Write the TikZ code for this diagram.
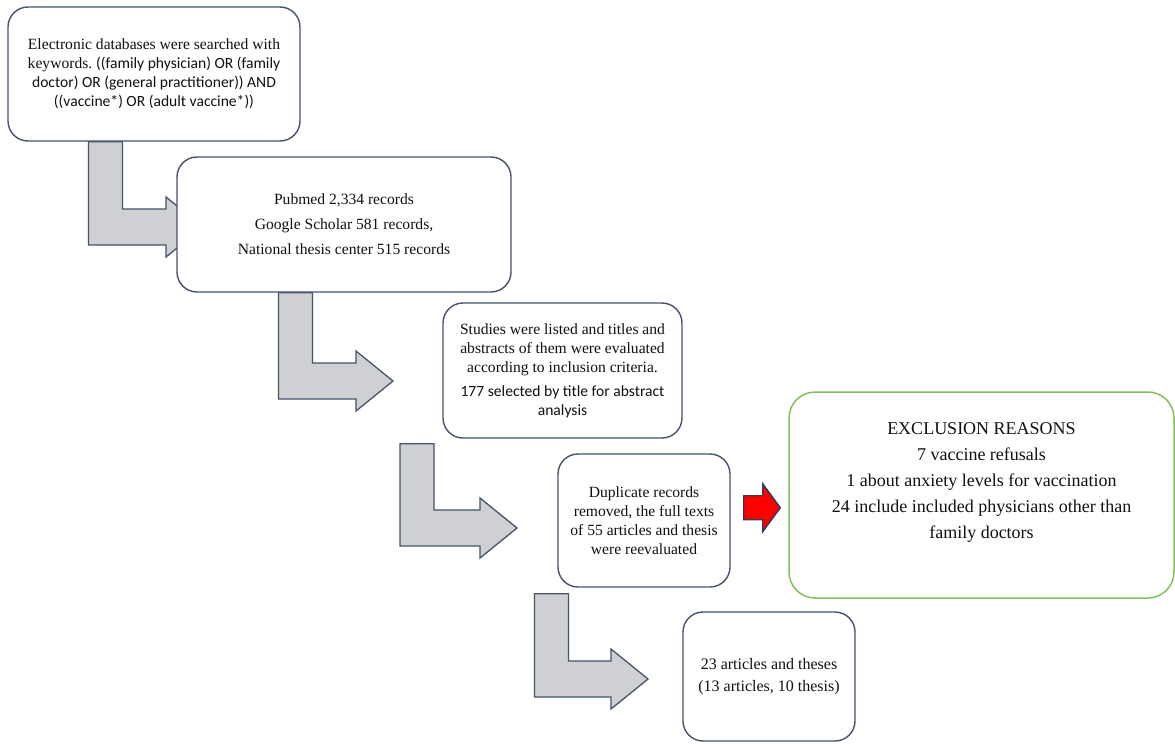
\documentclass[tikz,border=0pt]{standalone}
\usepackage{fontspec}
\setmainfont{Liberation Serif}
\newfontfamily\calibrifont{Carlito}
\usepackage{xcolor}
\usepackage{tikz}
\usetikzlibrary{backgrounds}
\usetikzlibrary{calc}
\usetikzlibrary{positioning}
\frenchspacing
\definecolor{boxline}{HTML}{46536A}
\definecolor{arrowfill}{HTML}{CFD0D4}
\definecolor{exgreen}{HTML}{82C05A}
\definecolor{exred}{HTML}{FF0000}
\definecolor{exnavy}{HTML}{2E3A5E}
\definecolor{textgray}{HTML}{111111}
\tikzset{blockarrow/.style={draw=boxline, fill=arrowfill, line width=1.3pt, line join=miter}}
\tikzset{redarrow/.style={draw=exnavy, fill=exred, line width=1.4pt, line join=miter}}
\newcommand{\boxfont}[0]{\fontsize{15.6}{19}\selectfont}
% bent arrow: from, to, stem x, tip x, bar shift, stem gap
\newcommand{\bentarrow}[6]{%
  \path[blockarrow] let \p1 = (#1.south), \p2 = (#2.west) in
    ({(#3-17)*1pt},{\y1-(#6)*1pt}) -- ({(#3-17)*1pt},{\y2-(#5)*1pt-18pt})
    -- ({(#4-37)*1pt},{\y2-(#5)*1pt-18pt}) -- ({(#4-37)*1pt},{\y2-(#5)*1pt-30pt})
    -- ({#4*1pt},{\y2-(#5)*1pt}) -- ({(#4-37)*1pt},{\y2-(#5)*1pt+30pt})
    -- ({(#4-37)*1pt},{\y2-(#5)*1pt+18pt}) -- ({(#3+17)*1pt},{\y2-(#5)*1pt+18pt})
    -- ({(#3+17)*1pt},{\y1-(#6)*1pt}) -- cycle;}
% side arrow between two boxes
\newcommand{\sidearrow}[2]{%
  \path[redarrow] let \p1 = (#1.east), \p2 = (#2.west), \n1 = {(\y1+\y2)/2} in
    ({\x1+13pt},{\n1*1pt+12pt}) -- ({\x1+32pt},{\n1*1pt+12pt}) -- ({\x1+32pt},{\n1*1pt+24pt})
    -- ({\x2-8pt},{\n1*1pt}) -- ({\x1+32pt},{\n1*1pt-24pt}) -- ({\x1+32pt},{\n1*1pt-12pt})
    -- ({\x1+13pt},{\n1*1pt-12pt}) -- cycle;}

\begin{document}
\begin{tikzpicture}[x=1pt, y=1pt]
\tikzstyle{flowbox} = [draw=boxline, line width=1.4pt, rounded corners=20pt, fill=white, align=center, inner sep=0pt, text=textgray, font=\boxfont]
\tikzstyle{exclbox} = [draw=exgreen, line width=1.5pt, rounded corners=26pt, fill=white]

\useasboundingbox (0,0) rectangle (1175,-744);

\node[flowbox, minimum width=292pt, minimum height=134pt] (S1) at (154,-74)
  {Electronic databases were searched with\\
   keywords. {\calibrifont ((family physician) OR (family}\\
   {\calibrifont doctor) OR (general practitioner)) AND}\\
   {\calibrifont ((vaccine*) OR (adult vaccine*))}};
\node[flowbox, minimum width=334pt, minimum height=135pt, font={\fontsize{15.6}{25}\selectfont}] (S2) at (344,-224.5)
  {Pubmed 2,334 records\\ Google Scholar 581 records,\\ National thesis center 515 records};
\node[flowbox, minimum width=239pt, minimum height=135pt] (S3) at (562.5,-370.5)
  {Studies were listed and titles and\\ abstracts of them were evaluated\\ according to inclusion criteria.\\[5pt]
   {\calibrifont 177 selected by title for abstract}\\ {\calibrifont analysis}};
\node[flowbox, minimum width=172pt, minimum height=133pt] (S4) at (644,-520.5)
  {Duplicate records\\ removed, the full texts\\ of 55 articles and thesis\\ were reevaluated};
\node[flowbox, minimum width=172pt, minimum height=129pt, font={\fontsize{16}{22}\selectfont}] (S5) at (769,-676.5)
  {23 articles and theses\\ (13 articles, 10 thesis)};

\node[exclbox, minimum width=385pt, minimum height=206pt] (X1) at (981.5,-495) {};
\node[align=center, inner sep=0pt, text=textgray, font={\fontsize{18}{26}\selectfont}, below=31pt of X1.north] (X1T)
  {EXCLUSION REASONS\\ 7 vaccine refusals\\ 1 about anxiety levels for vaccination\\
   24 include included physicians other than\\ family doctors};

\begin{scope}[on background layer]
\bentarrow{S1}{S2}{105.5}{203}{2.5}{0}
\bentarrow{S2}{S3}{295.5}{393}{10.5}{0}
\bentarrow{S3}{S4}{417}{517}{7.5}{5}
\bentarrow{S4}{S5}{551.5}{648}{2.5}{6}
\end{scope}

\sidearrow{S4}{X1}

\end{tikzpicture}
\end{document}
